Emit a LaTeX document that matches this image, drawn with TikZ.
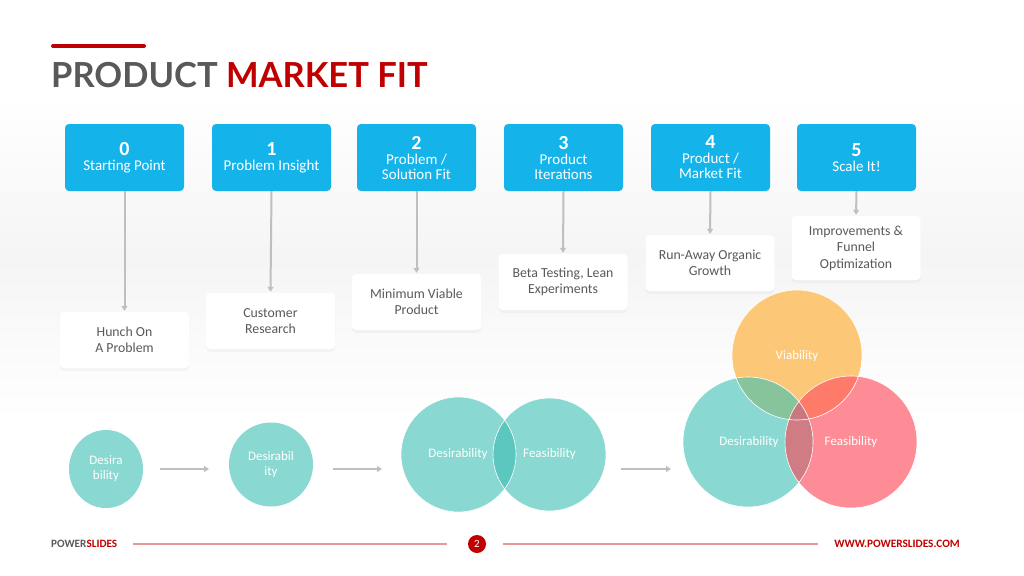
\documentclass[tikz,border=0pt]{standalone}
\usepackage{fontspec}
\setmainfont{Carlito}
\newfontfamily\titlefont{Lato}
\usetikzlibrary{arrows.meta,shadows,shapes.geometric}
\definecolor{cblue}{HTML}{14B4EA}
\definecolor{ctext}{HTML}{595959}
\definecolor{cred}{HTML}{C00000}
\definecolor{cline}{HTML}{BFBFBF}
\definecolor{cteal}{HTML}{89D8D2}
\definecolor{cteald}{HTML}{5CC7BF}
\definecolor{corange}{HTML}{FCC878}
\definecolor{cpink}{HTML}{FE8C97}
\definecolor{cvd}{HTML}{88C49B}
\definecolor{cvf}{HTML}{FE7B69}
\definecolor{cdf}{HTML}{CF7C84}
\definecolor{cvdf}{HTML}{C97880}
\tikzset{
  stepbox/.style={fill=cblue, rounded corners=4pt, minimum width=119pt, minimum height=67pt,
    text=white, align=center, inner sep=0pt, font=\fontsize{15}{15}\selectfont},
  notebox/.style={fill=white, rounded corners=4pt, minimum width=129pt, minimum height=56pt,
    text=ctext, align=center, inner sep=0pt, font=\fontsize{13.8}{16.5}\selectfont,
    drop shadow={opacity=0.06, shadow xshift=0pt, shadow yshift=-3pt}},
  conn/.style={draw=cline, line width=2pt, -{Triangle[width=6pt,length=5pt]}, shorten >=1pt},
  flow/.style={draw=cline, line width=2pt, -{Triangle[width=6pt,length=5pt]}},
  bubtext/.style={text=white, align=center, font=\fontsize{13}{15}\selectfont, inner sep=0pt},
}
\begin{document}
\begin{tikzpicture}[x=1pt,y=-1pt]
\useasboundingbox (0,0) rectangle (1024,575);
\fill[white] (0,0) rectangle (1024,575);
\shade[top color=white, bottom color=white, middle color=black!4] (0,95) rectangle (1024,420);
% title
\draw[cred, line width=4pt, line cap=round] (53,46) -- (144,46);
\node[anchor=base west, inner sep=0pt, font=\titlefont\bfseries\fontsize{34.5}{35}\selectfont] (title) at (51,88)
  {\color{ctext}PRODUCT \color{cred}MARKET FIT};
% step boxes
\node[stepbox] (b0) at (124.5,157.5) {{\fontsize{20}{20}\selectfont\bfseries 0}\\Starting Point};
\node[stepbox] (b1) at (271.5,157.5) {{\fontsize{20}{20}\selectfont\bfseries 1}\\Problem Insight};
\node[stepbox] (b2) at (416.5,157.5) {{\fontsize{20}{20}\selectfont\bfseries 2}\\Problem /\\Solution Fit};
\node[stepbox] (b3) at (563.5,157.5) {{\fontsize{20}{20}\selectfont\bfseries 3}\\Product\\Iterations};
\node[stepbox] (b4) at (710.5,157.5) {{\fontsize{20}{20}\selectfont\bfseries 4}\\Product /\\Market Fit};
\node[stepbox] (b5) at (856.5,157.5) {{\fontsize{20}{20}\selectfont\bfseries 5}\\Scale It!};
% note boxes
\node[notebox] (w0) at (124.5,340) {Hunch On\\A Problem};
\node[notebox] (w1) at (270.5,321) {Customer\\Research};
\node[notebox] (w2) at (416.5,302) {Minimum Viable\\Product};
\node[notebox] (w3) at (563,282) {Beta Testing, Lean\\Experiments};
\node[notebox] (w4) at (710,263) {Run-Away Organic\\Growth};
\node[notebox, minimum height=64pt] (w5) at (856,248) {Improvements \&\\Funnel\\Optimization};
\foreach \i in {0,...,5} { \draw[conn] (b\i.south) -- (w\i.north); }
% stage 1 and 2 bubbles
\node[ellipse, fill=cteal, minimum width=74pt, minimum height=78pt, inner sep=0pt] (c1) at (106,469) {};
\node[bubtext] (t1) at (c1) {Desira\\bility};
\node[circle, fill=cteal, minimum size=84pt, inner sep=0pt] (c2) at (271,464.5) {};
\node[bubtext] (t2) at (c2) {Desirabil\\ity};
% stage 3 two circles
\node[circle, minimum size=115pt, inner sep=0pt] (c3a) at (458.5,454.5) {};
\node[circle, minimum size=113pt, inner sep=0pt] (c3b) at (549.5,454.5) {};
\fill[cteal] (458.5,454.5) circle (57.5);
\fill[cteal] (549.5,454.5) circle (56.5);
\begin{scope}
  \clip (458.5,454.5) circle (57.5);
  \fill[cteald] (549.5,454.5) circle (56.5);
\end{scope}
\draw[white, line width=0.6pt] (458.5,454.5) circle (57.5);
\draw[white, line width=0.6pt] (549.5,454.5) circle (56.5);
\node[bubtext] (t3a) at (458,454) {Desirability};
\node[bubtext] (t3b) at (549.5,454.5) {Feasibility};
% stage 4 venn
\node[circle, minimum size=130pt, inner sep=0pt] (cv) at (797,355) {};
\node[circle, minimum size=130pt, inner sep=0pt] (cd) at (748,442) {};
\node[circle, minimum size=132pt, inner sep=0pt] (cf) at (851,442) {};
\fill[corange] (797,355) circle (65);
\fill[cteal] (748,442) circle (65);
\fill[cpink] (851,442) circle (66);
\begin{scope}
  \clip (797,355) circle (65);
  \fill[cvd] (748,442) circle (65);
  \fill[cvf] (851,442) circle (66);
\end{scope}
\begin{scope}
  \clip (748,442) circle (65);
  \fill[cdf] (851,442) circle (66);
  \clip (797,355) circle (65);
  \fill[cvdf] (851,442) circle (66);
\end{scope}
\draw[white, line width=0.6pt] (797,355) circle (65);
\draw[white, line width=0.6pt] (748,442) circle (65);
\draw[white, line width=0.6pt] (851,442) circle (66);
\node[bubtext] (tv) at (797,356) {Viability};
\node[bubtext] (td) at (749,442) {Desirability};
\node[bubtext] (tf) at (851,442) {Feasibility};
% flow arrows
\coordinate (f1s) at (160,469); \coordinate (f1e) at (209,469);
\coordinate (f2s) at (333,469); \coordinate (f2e) at (382,469);
\coordinate (f3s) at (621,469); \coordinate (f3e) at (671,469);
\draw[flow] (f1s) -- (f1e);
\draw[flow] (f2s) -- (f2e);
\draw[flow] (f3s) -- (f3e);
% footer
\node[anchor=west, inner sep=0pt, font=\fontsize{11.2}{11}\selectfont\bfseries] (ps) at (51,543.5)
  {\color{ctext}POWER\color{cred}SLIDES};
\node[circle, fill=cred, minimum size=18pt, inner sep=0pt, text=white, font=\fontsize{11}{11}\selectfont] (pg) at (477,544) {2};
\node[anchor=east, inner sep=0pt, text=cred, font=\fontsize{11.3}{11}\selectfont\bfseries] (www) at (960,543.5) {WWW.POWERSLIDES.COM};
\coordinate (l1s) at (133,544); \coordinate (l1e) at (447,544);
\coordinate (l2s) at (503,544); \coordinate (l2e) at (818,544);
\draw[cred!40, line width=1.5pt] (l1s) -- (l1e);
\draw[cred!40, line width=1.5pt] (l2s) -- (l2e);
\end{tikzpicture}
\end{document}
